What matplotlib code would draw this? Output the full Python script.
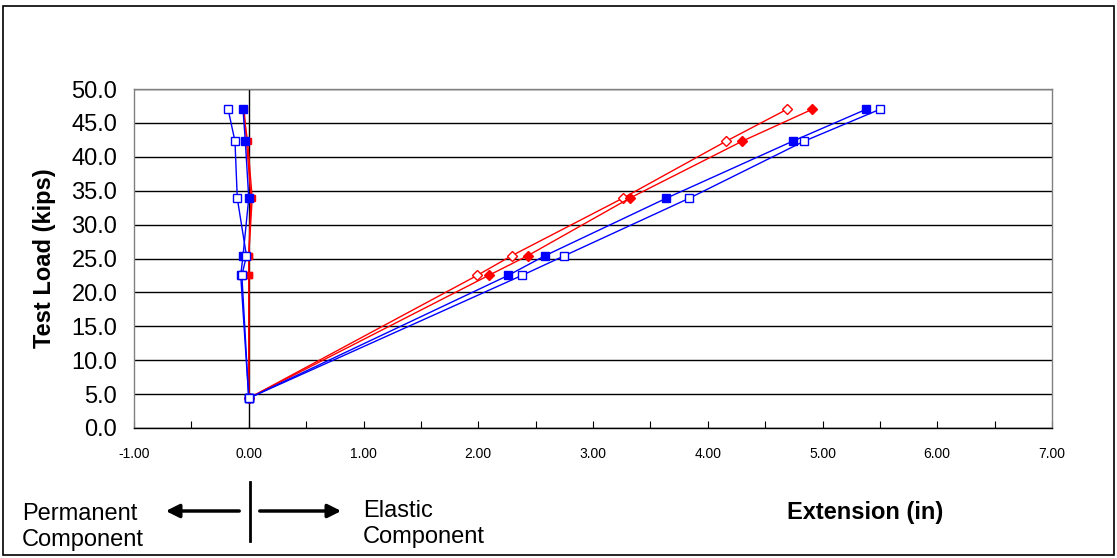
import matplotlib.pyplot as plt
from matplotlib.patches import Rectangle, FancyArrowPatch
from matplotlib.ticker import MultipleLocator

plt.rcParams['font.family'] = ['Liberation Sans', 'DejaVu Sans']

# test loads (kips)
load = [4.4, 22.5, 25.4, 33.9, 42.3, 47.0]

# elastic component of extension (in)
elastic_red_open = [0.0, 1.99, 2.29, 3.26, 4.16, 4.69]
elastic_red_fill = [0.0, 2.09, 2.43, 3.32, 4.30, 4.91]
elastic_blue_fill = [0.0, 2.26, 2.58, 3.64, 4.74, 5.38]
elastic_blue_open = [0.0, 2.38, 2.75, 3.84, 4.84, 5.50]

# permanent component of extension (in)
perm_red_open = [0.0, 0.0, 0.0, 0.02, -0.02, -0.04]
perm_red_fill = [0.0, 0.0, 0.0, 0.03, -0.01, -0.05]
perm_blue_fill = [0.0, -0.07, -0.05, 0.0, -0.03, -0.05]
perm_blue_open = [0.0, -0.06, -0.02, -0.10, -0.12, -0.18]

RED = '#ff0000'
BLUE = '#0000ff'

fig = plt.figure(figsize=(11.17, 5.58), dpi=100)
ax = fig.add_axes([134 / 1117, 130 / 558, 918 / 1117, 339 / 558])

# outer chart frame
fig.patches.append(Rectangle((3 / 1117, 3 / 558), 1111 / 1117, 549 / 558,
                             transform=fig.transFigure, fill=False,
                             edgecolor='black', linewidth=1.2))

ax.set_xlim(-1, 7)
ax.set_ylim(0, 50)
ax.yaxis.set_major_locator(MultipleLocator(5))
ax.xaxis.set_major_locator(MultipleLocator(1))
ax.xaxis.set_minor_locator(MultipleLocator(0.5))
ax.grid(axis='y', color='black', linewidth=1)
ax.set_axisbelow(True)
ax.axvline(0, color='black', linewidth=1, zorder=1)

for sp in ax.spines.values():
    sp.set_color('#808080')
    sp.set_linewidth(1)
ax.spines['bottom'].set_color('black')

ax.tick_params(axis='x', direction='in', which='both', length=5, width=0.8,
               labelsize=10, pad=14)
ax.tick_params(axis='y', length=0, labelsize=17, pad=12)
ax.set_xticklabels([f'{v:.2f}' for v in ax.get_xticks()])
ax.set_yticklabels([f'{v:.1f}' for v in ax.get_yticks()])
ax.set_ylabel('Test Load (kips)', fontsize=17, fontweight='bold')
ax.yaxis.set_label_coords(-0.085, 0.5)

series = [
    (elastic_red_open, perm_red_open, RED, 'D', 'white', 5),
    (elastic_red_fill, perm_red_fill, RED, 'D', RED, 5),
    (elastic_blue_fill, perm_blue_fill, BLUE, 's', BLUE, 5.5),
    (elastic_blue_open, perm_blue_open, BLUE, 's', 'white', 5.5),
]
for el, pm, c, m, fc, ms in series:
    ax.plot(el, load, color=c, linewidth=1, marker=m, markersize=ms,
            markerfacecolor=fc, markeredgecolor=c, markeredgewidth=1, zorder=3)
    ax.plot(pm, load, color=c, linewidth=1, marker='s', markersize=ms,
            markerfacecolor=fc, markeredgecolor=c, markeredgewidth=1, zorder=3)

# annotations under the chart
fig.text(22 / 1117, 1 - 527 / 558, 'Permanent\nComponent', fontsize=17,
         va='center', ha='left', linespacing=1.28)
fig.text(363 / 1117, 1 - 524 / 558, 'Elastic\nComponent', fontsize=17,
         va='center', ha='left', linespacing=1.28)
fig.text(865 / 1117, 1 - 512 / 558, 'Extension (in)', fontsize=17,
         fontweight='bold', va='center', ha='center')

arrow_kw = dict(arrowstyle='-|>', color='black', lw=2.5, mutation_scale=20)
fig.patches.append(FancyArrowPatch(
    (242 / 1117, 1 - 511 / 558), (163 / 1117, 1 - 511 / 558),
    transform=fig.transFigure, **arrow_kw))
fig.patches.append(FancyArrowPatch(
    (257 / 1117, 1 - 511 / 558), (344 / 1117, 1 - 511 / 558),
    transform=fig.transFigure, **arrow_kw))
fig.add_artist(plt.Line2D([250 / 1117, 250 / 1117], [1 - 482 / 558, 1 - 541 / 558],
                          transform=fig.transFigure, color='black', lw=2))

fig.savefig('out.png', dpi=100)
